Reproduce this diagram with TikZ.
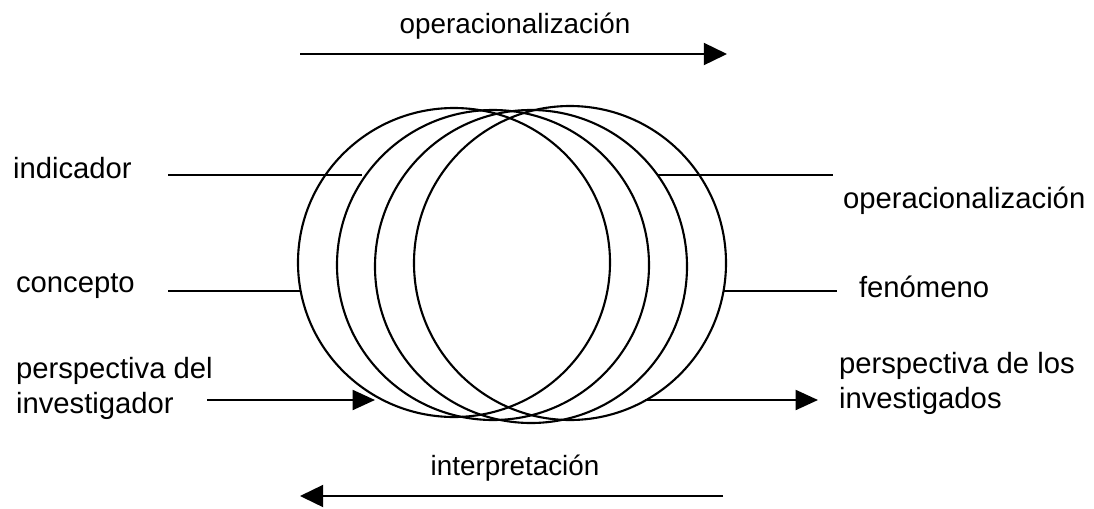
\documentclass[tikz,border=0pt]{standalone}
\usepackage{fontspec}
\setmainfont{Liberation Sans}
\usetikzlibrary{arrows.meta}

\begin{document}
\begin{tikzpicture}[x=0.025cm,y=-0.025cm,line width=1.5pt,
       lbl/.style={anchor=base west,inner sep=0pt,align=left,
         font=\fontsize{20.8}{24.8}\selectfont},
       toplbl/.style={anchor=base,inner sep=0pt,font=\fontsize{19.8}{23}\selectfont},
       arr/.style={-{Triangle[length=0.56cm,width=0.5cm]}},
       bigarr/.style={-{Triangle[length=0.58cm,width=0.55cm]}}]
       \useasboundingbox (0,0) rectangle (1094,508);
       % the four circles
       \draw (454,262.5) ellipse [x radius=156,y radius=154.5];
       \draw (493,265) ellipse [x radius=156,y radius=155];
       \draw (531,266.5) ellipse [x radius=156,y radius=156.5];
       \draw (570,263) ellipse [x radius=156,y radius=157];
       % labels
       \node[toplbl] (oper) at (515,33) {operacionalización};
       \node[toplbl] (interp) at (515,475) {interpretación};
       \node[lbl] (ind) at (12,178) {indicador};
       \node[lbl] (conc) at (15,292) {concepto};
       \node[lbl] (pinv) at (15,413) {perspectiva del\\investigador};
       \node[lbl] (operr) at (842,208) {operacionalización};
       \node[lbl] (fen) at (858,297) {fenómeno};
       \node[lbl] (pinvs) at (838,408) {perspectiva de los\\investigados};
       % line ends
       \coordinate (a1) at (300,54); \coordinate (a2) at (727,54);
       \coordinate (b1) at (723,496); \coordinate (b2) at (300,496);
       \coordinate (ind1) at (168,175); \coordinate (ind2) at (362,175);
       \coordinate (conc1) at (168,291); \coordinate (conc2) at (300,291);
       \coordinate (pinv1) at (207,400); \coordinate (pinv2) at (375,400);
       \coordinate (op1) at (657,175); \coordinate (op2) at (833,175);
       \coordinate (fen1) at (723,291); \coordinate (fen2) at (837,291);
       \coordinate (pi1) at (645,400); \coordinate (pi2) at (818,400);
       \draw[bigarr] (a1) -- (a2); \draw[bigarr] (b1) -- (b2);
       \draw (ind1) -- (ind2); \draw (conc1) -- (conc2);
       \draw[arr] (pinv1) -- (pinv2);
       \draw (op1) -- (op2); \draw (fen1) -- (fen2);
       \draw[arr] (pi1) -- (pi2);
\end{tikzpicture}
\end{document}
